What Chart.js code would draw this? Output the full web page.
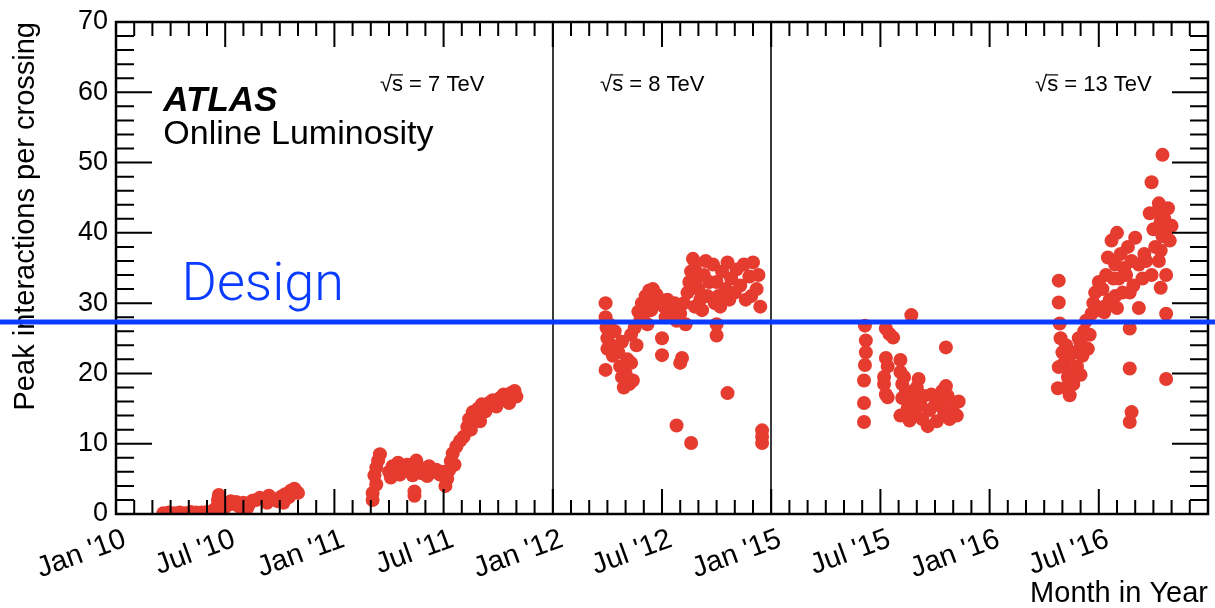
<!DOCTYPE html>
<html>
<head>
<meta charset="utf-8">
<script src="https://cdn.jsdelivr.net/npm/chart.js@4.4.1/dist/chart.umd.min.js"></script>
<style>
  html, body { margin: 0; padding: 0; background: #ffffff; }
  #wrap { width: 1215px; height: 608px; position: relative; }
</style>
</head>
<body>
<div id="wrap"><canvas id="c" width="1215" height="608"></canvas></div>
<script>
// Compressed month axis: one slot per month, 2012 is followed directly by 2015
const monthTickLabels = ["Jan '10", "Jul '10", "Jan '11", "Jul '11", "Jan '12", "Jul '12", "Jan '15", "Jul '15", "Jan '16", "Jul '16"];
const yearOffsets = { 2010: 0, 2011: 12, 2012: 24, 2015: 36, 2016: 48 };
const runBoundaries = [24, 36];
const designMu = 27.3;
const energyTexts = ["7 TeV", "8 TeV", "13 TeV"];

// Peak interactions per crossing per fill: [month within the year, peak mu]
const peaks2010 = [
  [2.6,0.1],[2.9,0.2],[3.0,0.0],[3.2,0.1],[3.5,0.2],[3.8,0.1],[4.0,0.0],[4.1,0.3],[4.4,0.2],[4.7,0.2],
  [4.9,0.1],[5.0,0.3],[5.3,0.4],[5.4,0.6],
  [5.55,1.0],[5.6,2.0],[5.65,2.7],[5.8,1.5],[5.9,0.6],[6.1,1.2],[6.3,1.8],
  [6.5,1.4],[6.6,1.7],[6.8,1.0],[7.0,1.6],[7.2,0.8],[7.3,1.3],[7.5,1.9],[7.7,2.0],[7.9,2.3],
  [8.3,1.6],[8.4,2.6],[8.6,2.2],[8.9,1.8],[9.1,2.5],[9.2,1.6],[9.3,2.8],[9.5,2.4],[9.6,3.3],[9.8,3.6],
  [9.9,3.2],[10.0,3.0]
];
const peaks2011 = [
  [2.1,2.0],[2.1,3.0],[2.3,4.2],[2.2,5.5],[2.3,6.6],[2.4,7.6],[2.5,8.5],
  [3.0,6.0],[3.1,5.2],[3.2,6.8],[3.4,6.2],[3.5,7.3],[3.6,5.6],[3.8,6.5],[4.0,7.0],[4.2,6.3],[4.3,5.5],
  [4.4,7.2],[4.5,7.6],[4.6,6.6],[4.8,5.8],[5.0,6.4],[5.1,5.4],[5.2,6.8],[5.4,6.0],[5.6,6.3],[5.8,5.6],[6.0,6.0],
  [4.4,2.6],[4.4,3.2],
  [6.1,4.0],[6.2,5.0],[6.3,6.2],[6.4,7.5],[6.5,8.6],[6.6,7.0],[6.7,9.6],[6.9,10.4],[7.1,11.0],[7.3,12.4],
  [7.4,13.5],[7.5,12.0],[7.6,14.5],[7.7,13.8],[7.9,15.0],[8.0,13.2],[8.1,15.6],[8.3,14.6],[8.5,15.8],
  [8.7,16.2],[8.9,15.3],[9.1,16.5],[9.3,17.0],[9.5,16.4],[9.6,15.8],[9.7,17.2],[9.9,17.5],[10.0,16.7]
];
const peaks2012 = [
  [2.9,30.0],[2.9,28.0],[2.95,26.5],[3.0,25.0],[3.0,23.5],[2.9,20.5],[3.1,27.0],[3.2,24.0],[3.3,22.5],[3.4,26.0],
  [3.6,23.0],[3.7,21.0],[3.8,19.5],[3.8,24.5],[3.9,18.0],[4.0,20.0],[4.1,22.0],[4.2,18.5],[4.3,21.5],[4.4,19.0],
  [4.3,25.5],[4.5,26.5],[4.6,24.0],[4.7,28.8],[4.8,27.5],[5.0,28.5],[5.2,27.0],[5.4,29.0],
  [4.9,30.0],[5.1,31.0],[5.3,31.8],[5.5,32.0],[5.6,30.0],[5.7,31.2],[5.9,30.5],
  [6.1,29.5],[6.2,28.0],[6.3,30.5],[6.5,28.5],[6.7,30.0],[6.9,29.0],
  [6.0,25.0],[6.0,22.6],[7.1,22.2],[7.0,21.5],
  [6.8,27.5],[7.0,28.5],[7.2,30.0],[7.3,27.0],[7.4,31.5],[7.5,33.0],[7.6,34.5],[7.7,36.3],[7.8,35.0],[7.8,29.5],
  [7.9,33.5],[8.0,32.0],[8.1,30.5],[8.2,29.0],[8.3,34.0],[8.4,36.0],[8.5,31.0],[8.6,33.0],
  [8.8,35.5],[8.9,30.0],[9.0,33.0],[9.1,31.0],[9.2,29.5],[9.3,34.5],[9.5,32.0],[9.6,35.8],[9.7,30.5],[9.8,33.5],
  [10.0,31.5],[10.1,34.8],[10.3,32.5],[10.5,35.5],[10.6,30.5],[10.8,33.8],[10.9,31.0],[11.0,35.8],[11.2,32.0],
  [11.3,34.0],[11.4,29.5],
  [9.0,25.4],[9.0,27.0],[9.6,17.2],[6.8,12.6],[7.6,10.1],[11.5,11.9],[11.5,11.0],[11.5,10.1]
];
const peaks2015 = [
  [5.15,26.8],[5.2,24.7],[5.2,23.0],[5.15,21.2],[5.1,19.0],[5.1,15.8],[5.1,13.1],
  [6.3,26.4],[6.5,25.6],[6.7,25.1],[6.3,22.2],[6.4,21.0],[6.2,19.5],[6.2,18.5],[6.4,16.6],[6.3,17.0],
  [7.7,28.3],
  [7.1,21.9],[7.1,20.2],[7.2,18.5],[7.2,16.5],[7.1,14.0],[7.3,19.5],[7.4,17.5],[7.5,15.0],[7.6,13.3],[7.8,16.5],
  [7.9,14.5],[8.0,18.0],[8.1,19.2],[8.2,15.5],[8.3,13.5],[8.4,16.8],[8.6,12.5],[8.7,14.8],[8.8,17.0],[9.0,15.5],
  [9.1,13.2],[9.3,16.0],[9.4,17.5],[9.5,14.5],[9.6,18.2],[9.7,16.8],[9.8,13.5],[10.0,15.5],[10.2,14.0],[10.3,16.0],
  [9.6,23.7]
];
const peaks2016 = [
  [3.8,33.2],[3.8,30.1],[3.85,27.1],[3.8,20.9],[3.75,17.9],
  [3.9,25.0],[4.0,23.0],[4.1,21.5],[4.2,24.0],[4.2,18.0],[4.3,19.5],[4.4,22.5],[4.4,16.9],[4.5,20.5],[4.6,18.5],
  [4.7,23.0],[4.8,21.0],[4.9,25.0],[5.0,19.8],[5.1,22.5],
  [5.0,24.3],[5.2,26.0],[5.3,27.5],[5.4,23.5],[5.5,25.5],[5.6,28.5],[5.7,30.0],[5.9,29.0],
  [5.8,31.5],[6.0,33.0],[6.2,32.0],[6.3,29.5],[6.4,34.0],[6.6,30.5],[6.8,33.5],[6.9,31.0],
  [6.5,36.5],[6.7,38.9],[6.9,35.5],[7.0,40.0],[7.1,33.5],[7.2,37.0],[7.3,31.5],[7.4,35.0],[7.5,34.0],[7.6,38.0],
  [7.8,36.0],[7.9,32.5],[8.0,39.3],[8.2,35.5],[8.4,33.5],[8.5,37.0],[8.6,36.0],
  [7.7,31.5],[7.7,26.4],[7.7,20.7],[7.8,14.5],[7.7,13.1],[8.2,29.3],[7.0,29.3],[6.3,28.7],
  [8.8,42.8],[9.0,40.5],[9.1,38.0],[9.2,43.0],[9.3,44.2],[9.4,41.5],[9.5,39.5],[9.6,42.0],[9.7,40.3],[9.8,43.5],
  [9.9,38.9],[10.0,41.0],
  [8.9,47.2],[9.5,51.1],[9.4,37.5],[9.3,36.0],[9.7,34.0],[9.4,32.2],[9.7,28.5],[9.7,19.2],[8.9,34.0]
];

const FONT = "'Liberation Sans', Arial, Helvetica, sans-serif";
const RED = '#e63b2f';
const BLUE = '#0a3cff';

function toPoints(rows, year) {
  return rows.map(([m, v]) => ({ x: yearOffsets[year] + m, y: v }));
}

// Annotation anchors in axis units (month slot, mu)
const textAnchors = {
  atlas: { x: 2.6, y: 57.3 },
  online: { x: 2.6, y: 52.6 },
  energies: [{ x: 14.5, y: 60.2 }, { x: 26.6, y: 60.2 }, { x: 50.5, y: 60.2 }],
  design: { x: 3.6, y: 30.5 }
};

const framePlugin = {
  id: 'rootFrame',
  beforeDatasetsDraw(chart) {
    const { ctx, chartArea: a, scales: { x } } = chart;
    ctx.save();
    ctx.strokeStyle = '#3a3a3a';
    ctx.lineWidth = 2;
    runBoundaries.forEach(b => {
      const px = Math.round(x.getPixelForValue(b));
      ctx.beginPath();
      ctx.moveTo(px, a.top);
      ctx.lineTo(px, a.bottom);
      ctx.stroke();
    });
    ctx.restore();
  },
  afterDatasetsDraw(chart) {
    const { ctx, chartArea: a, scales: { x, y } } = chart;
    ctx.save();
    // frame
    ctx.strokeStyle = '#000';
    ctx.lineWidth = 2.5;
    ctx.strokeRect(a.left, a.top, a.right - a.left, a.bottom - a.top);
    // month ticks (top and bottom, pointing inwards)
    ctx.lineWidth = 2;
    for (let m = x.min; m <= x.max; m++) {
      const px = x.getPixelForValue(m);
      const len = m % 6 === 0 ? 25 : 14;
      ctx.beginPath();
      ctx.moveTo(px, a.bottom); ctx.lineTo(px, a.bottom - len);
      ctx.moveTo(px, a.top); ctx.lineTo(px, a.top + len);
      ctx.stroke();
    }
    // mu ticks (left and right, pointing inwards)
    for (let v = y.min; v <= y.max; v += 2) {
      const py = y.getPixelForValue(v);
      const len = v % 10 === 0 ? 36 : 18;
      ctx.beginPath();
      ctx.moveTo(a.left, py); ctx.lineTo(a.left + len, py);
      ctx.moveTo(a.right, py); ctx.lineTo(a.right - len, py);
      ctx.stroke();
    }

    // design value line across the full width
    const dy = y.getPixelForValue(designMu);
    ctx.strokeStyle = BLUE;
    ctx.lineWidth = 5;
    ctx.beginPath();
    ctx.moveTo(0, dy);
    ctx.lineTo(chart.width, dy);
    ctx.stroke();

    // labels
    ctx.textBaseline = 'alphabetic';
    ctx.textAlign = 'left';
    ctx.fillStyle = '#000';
    ctx.font = `italic bold 35px ${FONT}`;
    ctx.fillText('ATLAS', x.getPixelForValue(textAnchors.atlas.x), y.getPixelForValue(textAnchors.atlas.y));
    ctx.font = `34px ${FONT}`;
    ctx.fillText('Online Luminosity', x.getPixelForValue(textAnchors.online.x), y.getPixelForValue(textAnchors.online.y));

    ctx.font = `22px ${FONT}`;
    energyTexts.forEach((t, i) => {
      const p = textAnchors.energies[i];
      const px = x.getPixelForValue(p.x);
      const py = y.getPixelForValue(p.y);
      const rootW = ctx.measureText('\u221A').width;
      const sW = ctx.measureText('s').width;
      ctx.fillText('\u221As = ' + t, px, py);
      ctx.lineWidth = 1.2;
      ctx.strokeStyle = '#000';
      ctx.beginPath();
      ctx.moveTo(px + rootW - 1, py - 16);
      ctx.lineTo(px + rootW + sW, py - 16);
      ctx.stroke();
    });

    ctx.fillStyle = BLUE;
    ctx.font = `300 54px Roboto, ${FONT}`;
    ctx.fillText('Design', x.getPixelForValue(textAnchors.design.x), y.getPixelForValue(textAnchors.design.y));
    ctx.restore();
  }
};

const years = [2010, 2011, 2012, 2015, 2016];
const rowsByYear = [peaks2010, peaks2011, peaks2012, peaks2015, peaks2016];

new Chart(document.getElementById('c'), {
  type: 'scatter',
  data: {
    datasets: years.map((yr, i) => ({
      label: String(yr),
      data: toPoints(rowsByYear[i], yr),
      backgroundColor: RED,
      borderWidth: 0,
      pointRadius: 7,
      pointHoverRadius: 7
    }))
  },
  options: {
    responsive: false,
    animation: false,
    devicePixelRatio: 1,
    layout: { padding: { top: 22, right: 4, left: 0, bottom: 0 } },
    plugins: { legend: { display: false }, tooltip: { enabled: false } },
    scales: {
      x: {
        type: 'linear',
        min: 0, max: 60,
        afterFit(scale) { scale.height = 94; scale.paddingLeft = 0; scale.paddingRight = 0; },
        grid: { display: false, drawTicks: false },
        border: { display: false },
        ticks: {
          stepSize: 6,
          autoSkip: false,
          maxRotation: 20, minRotation: 20,
          padding: 8,
          labelOffset: 9,
          color: '#000',
          font: { family: FONT, size: 29 },
          callback: v => monthTickLabels[v / 6] ?? ''
        },
        title: {
          display: true, text: 'Month in Year', align: 'end', color: '#000',
          font: { family: FONT, size: 29, lineHeight: 1 }, padding: { top: 0, bottom: 0 }
        }
      },
      y: {
        min: 0, max: 70,
        afterFit(scale) { scale.width = 116; scale.paddingTop = 0; scale.paddingBottom = 0; },
        grid: { display: false, drawTicks: false },
        border: { display: false },
        ticks: {
          stepSize: 10, padding: 8, color: '#000',
          font: { family: FONT, size: 27 }
        },
        title: {
          display: true, text: 'Peak interactions per crossing', align: 'end', color: '#000',
          font: { family: FONT, size: 29 }, padding: { top: 9, bottom: 0 }
        }
      }
    }
  },
  plugins: [framePlugin]
});
</script>
</body>
</html>
